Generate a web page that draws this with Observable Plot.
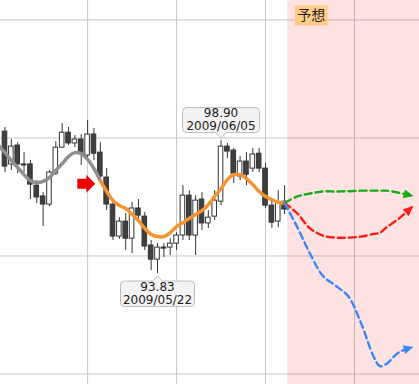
<!DOCTYPE html>
<html><head><meta charset="utf-8">
<script src="https://cdn.jsdelivr.net/npm/d3@7"></script>
<script src="https://cdn.jsdelivr.net/npm/@observablehq/plot@0.6"></script>
<style>body{margin:0;background:#fff}</style>
</head><body><div id="chart"></div>
<script>
// Daily candles (trading-day index 0..44)
const open  = [99.24,97.99,98.71,97.99,97.99,97.18,96.77,96.46,97.64,98.63,99.20,98.79,98.94,98.33,99.13,98.44,97.49,96.46,95.24,95.81,95.16,96.31,96.00,94.90,94.36,94.82,94.82,94.97,95.28,96.80,95.28,96.65,95.74,96.00,96.57,98.67,98.52,97.53,98.10,97.83,98.40,97.83,96.42,95.81,96.57];
const high  = [99.40,98.94,98.82,98.44,98.14,97.37,96.92,97.76,98.86,99.55,99.40,99.09,99.13,99.66,99.36,98.82,97.83,96.61,95.96,96.12,96.54,96.65,96.16,95.09,94.97,94.97,95.16,95.39,97.18,96.99,96.80,96.92,96.23,96.99,98.90,98.79,98.60,98.29,98.44,98.60,98.60,98.02,96.61,96.99,97.18];
const low   = [97.68,97.76,97.64,97.68,96.65,96.50,95.62,96.38,97.57,98.60,98.71,98.63,97.95,98.25,98.14,97.37,96.23,95.09,95.13,94.71,94.59,95.85,94.71,93.94,93.83,94.44,94.52,94.71,95.09,95.09,94.52,95.47,95.55,95.85,96.42,98.21,97.26,97.37,97.18,97.68,97.68,96.31,95.55,95.58,96.08];
const close = [97.91,98.67,97.99,97.95,97.22,96.73,96.46,97.68,98.63,99.20,98.79,98.94,98.40,99.13,98.40,97.53,96.46,95.24,95.81,95.16,96.31,96.04,94.86,94.36,94.82,94.78,94.97,95.28,96.80,95.28,96.61,95.74,95.96,96.61,98.67,98.48,97.64,98.10,97.60,98.37,97.83,96.42,95.77,96.54,96.27];

// Smoothed trend, index -1..44 (gray up to index 15, orange after)
const smoothStart = -1;
const smooth = [98.71,98.44,98.14,97.87,97.60,97.37,97.30,97.34,97.49,97.76,98.02,98.29,98.44,98.40,98.18,97.83,97.37,96.96,96.61,96.42,96.31,96.08,95.85,95.55,95.32,95.24,95.24,95.39,95.62,95.77,95.93,96.08,96.23,96.46,96.77,97.07,97.41,97.60,97.60,97.45,97.22,96.96,96.77,96.65,96.54,96.52];
const splitIndex = 15;

// Forecasts
const forecastIdx = [44,46,48,50,52,54,56,58,59,60,62,64];
const fcGreen = [96.52,96.77,96.88,96.96,96.96,96.97,96.99,96.99,96.99,96.99,96.91,96.80];
const fcRed   = [96.52,96.12,95.55,95.28,95.20,95.20,95.24,95.34,95.39,95.58,95.93,96.35];
const fcBlue  = [96.52,95.60,94.59,93.75,93.37,92.97,91.96,90.67,90.30,90.38,90.83,91.01];
const forecastZone = [44.5, 65.23];
const zoneLabel = "予想";

// Callouts
const calloutIdx = [34, 24];
const calloutPrice = ["98.90", "93.83"];
const calloutDate = ["2009/06/05", "2009/05/22"];

// Grid
const gridX = [13, 27, 41, 55];
const gridY = [90, 94.5, 99, 103.5];

const candles = open.map((o, i) => ({i, open: o, high: high[i], low: low[i], close: close[i], up: close[i] >= o}));
const trend = smooth.map((v, k) => ({i: smoothStart + k, v}));
const trendGray = trend.filter(d => d.i <= splitIndex);
const trendOrange = trend.filter(d => d.i >= splitIndex);
const fc = (arr) => forecastIdx.map((i, k) => ({i, v: arr[k]}));

function boxSymbol(x0, y0, x1, y1, r, pointer) {
  return {draw(c) {
    c.moveTo(x0 + r, y0);
    if (pointer === "top") { c.lineTo(-5, y0); c.lineTo(0, y0 - 5); c.lineTo(5, y0); }
    c.lineTo(x1 - r, y0);
    c.arcTo(x1, y0, x1, y0 + r, r);
    c.lineTo(x1, y1 - r);
    c.arcTo(x1, y1, x1 - r, y1, r);
    if (pointer === "bottom") { c.lineTo(5, y1); c.lineTo(0, y1 + 6); c.lineTo(-5, y1); }
    c.lineTo(x0 + r, y1);
    c.arcTo(x0, y1, x0, y1 - r, r);
    c.lineTo(x0, y0 + r);
    c.arcTo(x0, y0, x0 + r, y0, r);
    c.closePath();
  }};
}
const blockArrow = {draw(c) {
  c.moveTo(-23, -2); c.lineTo(-14, -2); c.lineTo(-14, -6); c.lineTo(-5, 3);
  c.lineTo(-14, 12); c.lineTo(-14, 8); c.lineTo(-23, 8); c.closePath();
}};
const rectSym = {draw(c) { c.rect(-16.5, -10, 33, 20); }};

function arrowMarker(color, context) {
  const doc = (context && context.document) || document;
  const ns = "http://www.w3.org/2000/svg";
  const m = doc.createElementNS(ns, "marker");
  m.setAttribute("viewBox", "-10 -6 14 12");
  m.setAttribute("markerWidth", 14);
  m.setAttribute("markerHeight", 12);
  m.setAttribute("markerUnits", "userSpaceOnUse");
  m.setAttribute("orient", "auto");
  const p = doc.createElementNS(ns, "path");
  p.setAttribute("d", "M-8,-4.5L2,0L-8,4.5Z");
  p.setAttribute("fill", color);
  p.setAttribute("stroke", "none");
  m.appendChild(p);
  return m;
}

function build(marker) {
  const fcLine = (arr, color) => Plot.line(fc(arr), {x: "i", y: "v", stroke: color, strokeWidth: 2.4, strokeDasharray: "7,4", curve: "catmull-rom", markerEnd: marker});
  return Plot.plot({
    width: 419, height: 384, margin: 0,
    style: {fontFamily: "DejaVu Sans", background: "white"},
    x: {domain: [-0.706, 65.23], axis: null},
    y: {domain: [89.60, 104.24], axis: null},
    marks: [
      Plot.ruleY(gridY, {stroke: "#c8c8c8", strokeWidth: 1}),
      Plot.ruleX(gridX, {stroke: "#c8c8c8", strokeWidth: 1}),
      Plot.rect([forecastZone], {x1: d => d[0], x2: d => d[1], fill: "red", fillOpacity: 0.11}),
      Plot.ruleX(candles, {x: "i", y1: "low", y2: "high", stroke: "#333", strokeWidth: 1}),
      Plot.rect(candles, {x1: d => d.i - 0.36, x2: d => d.i + 0.36, y1: "open", y2: "close", fill: d => d.up ? "white" : "#404040", stroke: "#333", strokeWidth: 1}),
      Plot.line(trendGray, {x: "i", y: "v", stroke: "#8f8f8f", strokeWidth: 3.5, curve: "catmull-rom", clip: true}),
      Plot.line(trendOrange, {x: "i", y: "v", stroke: "#f59331", strokeWidth: 3.5, curve: "catmull-rom"}),
      fcLine(fcGreen, "#1aaa1a"),
      fcLine(fcRed, "#ff1a1a"),
      fcLine(fcBlue, "#3a88f5"),
      Plot.dot([splitIndex], {x: d => d, y: d => smooth[d - smoothStart], symbol: blockArrow, fill: "#f00000", stroke: "none"}),
      // callouts
      Plot.dot([0], {x: () => calloutIdx[0], y: () => high[calloutIdx[0]], symbol: boxSymbol(-38.5, -33, 38.5, -8, 4, "bottom"), fill: "#f3f3f3", stroke: "#bdbdbd", strokeWidth: 1}),
      Plot.text([calloutPrice[0]], {x: () => calloutIdx[0], y: () => high[calloutIdx[0]], text: d => d, dy: -27, fontSize: 12, fill: "#222"}),
      Plot.text([calloutDate[0]], {x: () => calloutIdx[0], y: () => high[calloutIdx[0]], text: d => d, dy: -14, fontSize: 12, fill: "#222"}),
      Plot.dot([0], {x: () => calloutIdx[1], y: () => low[calloutIdx[1]], symbol: boxSymbol(-37, 7.5, 37, 33, 4, "top"), fill: "#f3f3f3", stroke: "#bdbdbd", strokeWidth: 1}),
      Plot.text([calloutPrice[1]], {x: () => calloutIdx[1], y: () => low[calloutIdx[1]], text: d => d, dy: 14, fontSize: 12, fill: "#222"}),
      Plot.text([calloutDate[1]], {x: () => calloutIdx[1], y: () => low[calloutIdx[1]], text: d => d, dy: 27, fontSize: 12, fill: "#222"}),
      // zone label
      Plot.dot([forecastZone[0]], {x: d => d, frameAnchor: "top", dx: 23.5, dy: 15, symbol: rectSym, fill: "#ffcc88", stroke: "none"}),
      Plot.text([zoneLabel], {x: () => forecastZone[0], frameAnchor: "top", dx: 23.5, dy: 15, text: d => d, fontSize: 14, fontFamily: "Noto Sans CJK JP", fill: "#222", lineAnchor: "middle"})
    ]
  });
}
let chart;
try { chart = build(arrowMarker); } catch (e) { chart = build("arrow"); }
document.getElementById("chart").append(chart);
</script>
</body></html>
